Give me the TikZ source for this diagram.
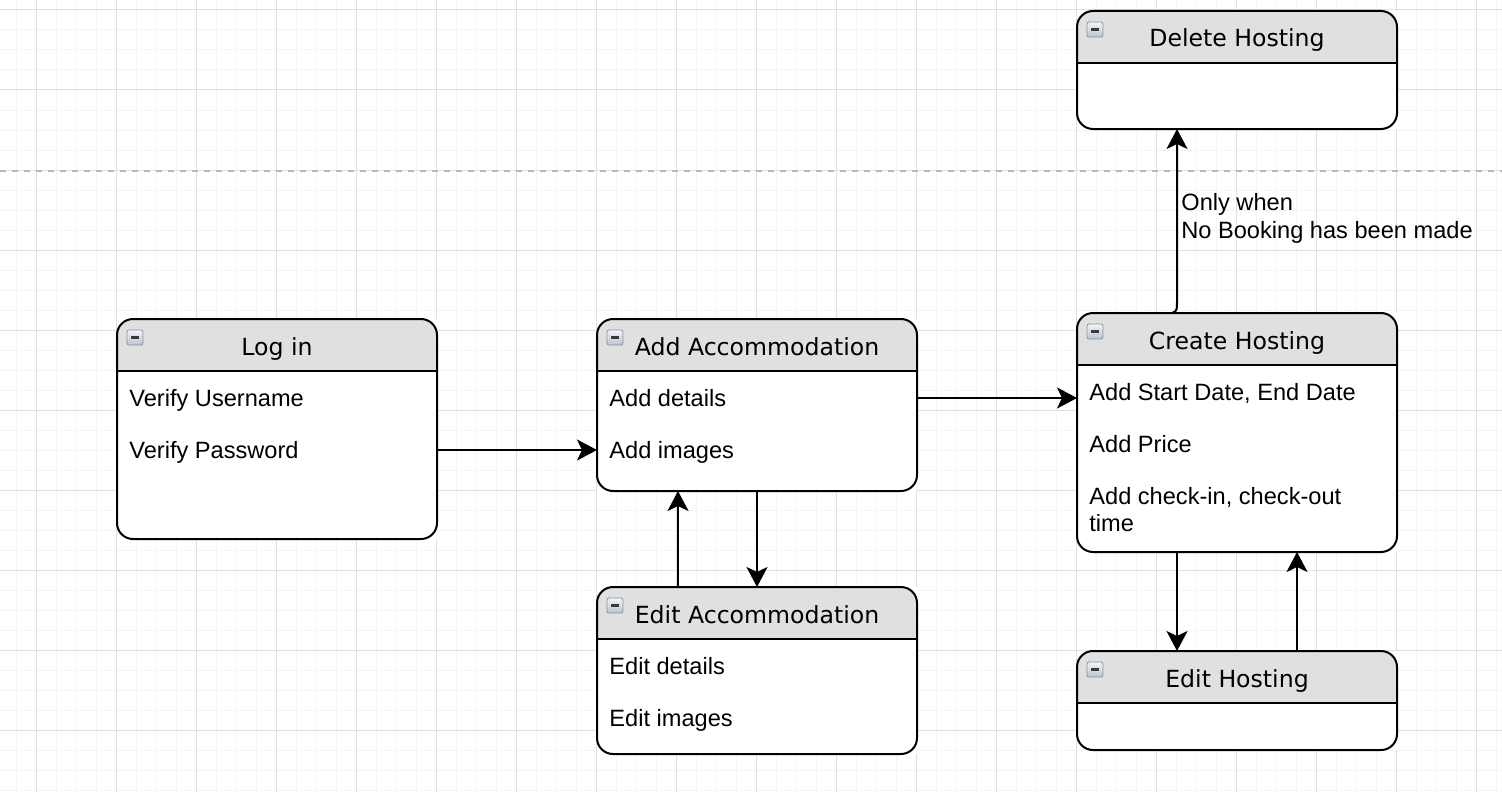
\documentclass[tikz,border=0pt]{standalone}
\usepackage{fontspec}
\setmainfont{Liberation Sans}
\newfontfamily\hdrfont{DejaVu Sans}
\usetikzlibrary{arrows.meta}
\definecolor{hdrgray}{RGB}{224,224,224}
\definecolor{gridmajor}{RGB}{224,224,224}
\definecolor{gridminor}{RGB}{245,245,245}
\definecolor{sepgray}{RGB}{185,185,185}
\definecolor{icontop}{RGB}{242,244,247}
\definecolor{iconbot}{RGB}{186,195,206}
\definecolor{iconedge}{RGB}{140,146,154}
\definecolor{iconbar}{RGB}{58,58,58}

\tikzset{
  sbox/.style={rectangle, fill=white, inner sep=0pt, outer sep=0pt},
  border/.style={line width=1pt, rounded corners=8pt},
  hline/.style={line width=1pt},
  title/.style={font=\hdrfont\fontsize{11.8}{14}\selectfont, anchor=base, inner sep=0pt},
  body/.style={font=\fontsize{11.8}{13.5}\selectfont, anchor=base west, inner sep=0pt, align=left},
  note/.style={font=\fontsize{11.8}{14}\selectfont, anchor=west, inner sep=0pt, align=left},
  flow/.style={line width=1pt, -{Stealth[length=10pt,width=10.5pt,inset=2.5pt]}},
  minorgrid/.style={gridminor, line width=0.5pt},
  majorgrid/.style={gridmajor, line width=0.5pt},
  sepline/.style={sepgray, line width=0.6pt, dash pattern=on 3pt off 3pt},
}

% #1 name, #2 x1, #3 y1, #4 x2, #5 y2, #6 title
\newcommand\statebox[6]{%
  \node[sbox, minimum width={(#4-#2)*0.5pt}, minimum height={(#5-#3)*0.5pt}] (#1) at ({(#2+#4)/2},{(#3+#5)/2}) {};
  \begin{scope}
    \clip[rounded corners=8pt] (#1.north west) rectangle (#1.south east);
    \fill[hdrgray] (#2,#3) rectangle (#4,#3+52);
  \end{scope}
  \draw[hline] (#2,#3+52) -- (#4,#3+52);
  \draw[border] (#1.north west) rectangle (#1.south east);
  \shade[top color=icontop, bottom color=iconbot, draw=iconedge, line width=0.4pt, rounded corners=1pt]
    (#2+10,#3+11) rectangle (#2+26,#3+26);
  \draw[iconbar, line width=1.3pt] (#2+14,#3+18.5) -- (#2+22,#3+18.5);
  \node[title] (#1t) at ({(#2+#4)/2},#3+36) {#6};
}

\begin{document}
\begin{tikzpicture}[x=0.5pt,y=-0.5pt]
\useasboundingbox (0,0) rectangle (1502,792);
\fill[white] (0,0) rectangle (1502,792);
% grid
\foreach \x in {16,36,...,1500} \draw[minorgrid] (\x,0) -- (\x,792);
\foreach \y in {10,30,...,790} \draw[minorgrid] (0,\y) -- (1502,\y);
\foreach \x in {36,116,...,1500} \draw[majorgrid] (\x,0) -- (\x,792);
\foreach \y in {10,90,...,790} \draw[majorgrid] (0,\y) -- (1502,\y);
% separator
\draw[sepline] (0,171) -- (1502,171);

% boxes
\statebox{login}{117}{319}{437}{539}{Log in}
\node[body] (l1) at (129,406) {Verify Username};
\node[body] (l2) at (129,458) {Verify Password};

\statebox{addacc}{597}{319}{917}{491}{Add Accommodation}
\node[body] (a1) at (609,406) {Add details};
\node[body] (a2) at (609,458) {Add images};

\statebox{editacc}{597}{587}{917}{754}{Edit Accommodation}
\node[body] (e1) at (609,674) {Edit details};
\node[body] (e2) at (609,726) {Edit images};

\statebox{create}{1077}{313}{1397}{552}{Create Hosting}
\node[body] (c1) at (1089,400) {Add Start Date, End Date};
\node[body] (c2) at (1089,452) {Add Price};
\node[body] (c3) at (1089,531) {Add check-in, check-out\\time};

\statebox{delete}{1077}{11}{1397}{129}{Delete Hosting}
\statebox{edithost}{1077}{651}{1397}{750}{Edit Hosting}

% connectors
\draw[flow] (login.east |- 0,450) -- (addacc.west |- 0,450);
\draw[flow] (addacc.east |- 0,398) -- (create.west |- 0,398);
\draw[flow] (addacc.south -| 757,0) -- (editacc.north -| 757,0);
\draw[flow] (editacc.north -| 678,0) -- (addacc.south -| 678,0);
\draw[flow] (create.south -| 1177,0) -- (edithost.north -| 1177,0);
\draw[flow] (edithost.north -| 1297,0) -- (create.south -| 1297,0);
\draw[flow] (create.north -| 1172,0) .. controls (1177,311) .. (1177,298) -- (delete.south -| 1177,0);
\node[note] (lbl) at (1181,218) {Only when\\No Booking has been made};
\end{tikzpicture}
\end{document}
